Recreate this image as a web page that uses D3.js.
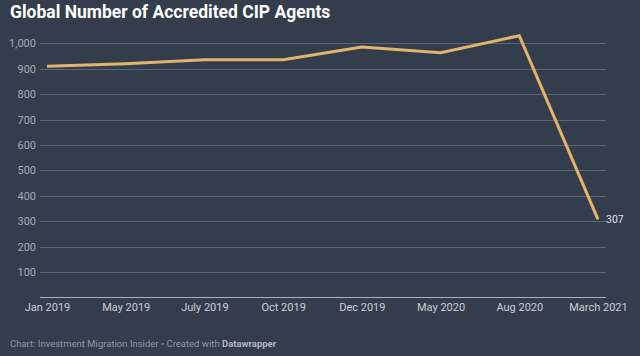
<!DOCTYPE html>
<html>
<head>
<meta charset="utf-8">
<script src="https://cdn.jsdelivr.net/npm/d3@7"></script>
<style>
  html, body { margin: 0; padding: 0; background: #333d4c; }
  svg { display: block; font-family: Roboto, "Noto Sans", sans-serif; }
</style>
</head>
<body>
<svg id="chart" width="640" height="356"></svg>
<script>
const categories = ["Jan 2019", "May 2019", "July 2019", "Oct 2019", "Dec 2019", "May 2020", "Aug 2020", "March 2021"];
const agents = [910, 920, 935, 935, 985, 963, 1030, 307];
const yTicks = [100, 200, 300, 400, 500, 600, 700, 800, 900, 1000];

const svg = d3.select("#chart");
const W = 640, H = 356;

svg.append("rect").attr("width", W).attr("height", H).attr("fill", "#333d4c");

svg.append("text")
  .attr("x", 10).attr("y", 18)
  .attr("fill", "#ffffff")
  .attr("font-size", 17.5).attr("font-weight", 700)
  .text("Global Number of Accredited CIP Agents");

const x = d3.scalePoint().domain(categories).range([47, 598]);
const y = d3.scaleLinear().domain([0, 1000]).range([297.5, 43.3]);

// grid + y labels
const yAxis = d3.axisLeft(y).tickValues(yTicks).tickSize(0).tickPadding(0)
  .tickFormat(d3.format(","));
const gy = svg.append("g").attr("transform", "translate(36,0)").call(yAxis);
gy.select(".domain").remove();
gy.selectAll("text").attr("fill", "#a3abb5").attr("font-size", 11).attr("font-family", "Roboto, sans-serif");

svg.append("g").selectAll("line").data(yTicks).join("line")
  .attr("x1", 40).attr("x2", 606)
  .attr("y1", d => Math.round(y(d)) + 0.5).attr("y2", d => Math.round(y(d)) + 0.5)
  .attr("stroke", "#5b6674").attr("stroke-width", 1);

// baseline
svg.append("line")
  .attr("x1", 40).attr("x2", 606)
  .attr("y1", y(0)).attr("y2", y(0))
  .attr("stroke", "#aab2bc").attr("stroke-width", 1.2);

// x labels
const xAxis = d3.axisBottom(x).tickSize(0).tickPadding(0);
const gx = svg.append("g").attr("transform", "translate(0,303)").call(xAxis);
gx.select(".domain").remove();
gx.selectAll("text").attr("fill", "#c9ced5").attr("font-size", 11).attr("font-family", "Roboto, sans-serif")
  .attr("dy", "0.71em");

// line
const line = d3.line().x((d, i) => x(categories[i])).y(d => y(d));
svg.append("path").datum(agents)
  .attr("d", line)
  .attr("fill", "none")
  .attr("stroke", "#e2b46e")
  .attr("stroke-width", 3)
  .attr("stroke-linejoin", "miter")
  .attr("stroke-linecap", "butt");

// end label
const last = agents.length - 1;
svg.append("text")
  .attr("x", x(categories[last]) + 8).attr("y", y(agents[last]) + 4)
  .attr("fill", "#dfe3e8").attr("font-size", 10.5)
  .text(d3.format(",")(agents[last]));

// footer
const foot = svg.append("text").attr("x", 10).attr("y", 347)
  .attr("fill", "#8e98a4").attr("font-size", 9.5);
foot.append("tspan").text("Chart: Investment Migration Insider • Created with ");
foot.append("tspan").attr("font-weight", 700).attr("fill", "#b0b8c2").text("Datawrapper");
</script>
</body>
</html>
